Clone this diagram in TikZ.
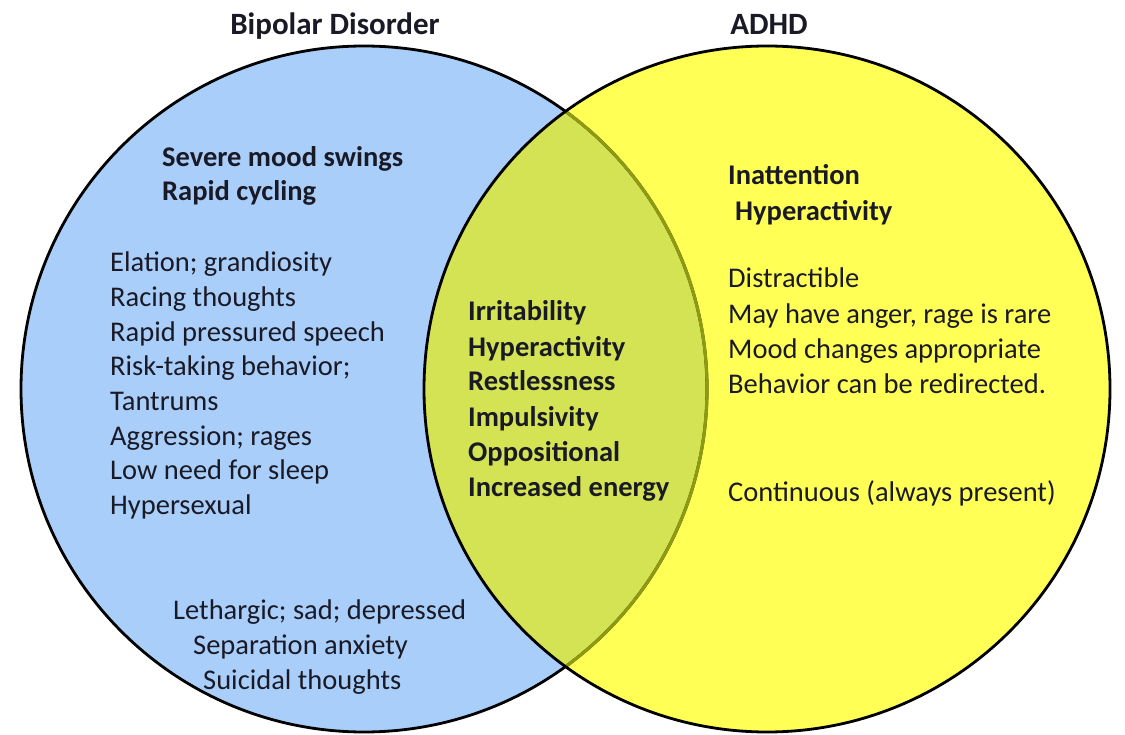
\documentclass[tikz,border=0pt]{standalone}
\usepackage{fontspec}
\setmainfont{Carlito}
\definecolor{bipolarblue}{HTML}{A9CEFA}
\definecolor{adhdyellow}{HTML}{FFFF55}
\definecolor{bothgreen}{HTML}{D4E353}
\definecolor{oliveline}{HTML}{8E9A12}
\definecolor{inkdark}{HTML}{1A1A26}
\tikzset{
  ring/.style={draw=black, line width=2.8pt},
  heading/.style={font=\fontsize{31}{36}\selectfont\bfseries, anchor=base, inner sep=0pt, text=inkdark},
  symptom/.style={font=\fontsize{28.5}{34}\selectfont, anchor=base west, inner sep=0pt, text=inkdark},
  keysymptom/.style={symptom, font=\fontsize{28.5}{34}\selectfont\bfseries},
}
\begin{document}
\begin{tikzpicture}[x=1pt,y=-1pt]
  \useasboundingbox (0,0) rectangle (1125,735);
  % the two sets and their overlap
  \coordinate (bpc) at (364,389);
  \coordinate (adc) at (767,389);
  \fill[bipolarblue] (bpc) circle[radius=343pt];
  \fill[adhdyellow] (adc) circle[radius=343pt];
  \begin{scope}
    \clip (adc) circle[radius=343pt];
    \fill[bothgreen] (bpc) circle[radius=343pt];
  \end{scope}
  \draw[ring] (bpc) circle[radius=343pt];
  \begin{scope}
    \clip (adc) circle[radius=343pt];
    \draw[ring, draw=oliveline, line width=3.2pt] (bpc) circle[radius=343pt];
  \end{scope}
  \draw[ring] (adc) circle[radius=343pt];

  \node[heading] (bptitle) at (335,35) {Bipolar Disorder};
  \node[heading] (adtitle) at (769,35) {ADHD};

  % bipolar only
  \node[keysymptom] (bpkey1) at (162,167) {Severe mood swings};
  \node[keysymptom] (bpkey2) at (162,201) {Rapid cycling};
  \foreach \txt [count=\i from 0] in {Elation; grandiosity, Racing thoughts,
      Rapid pressured speech, Risk-taking behavior;, Tantrums,
      Aggression; rages, Low need for sleep, Hypersexual}
    \node[symptom] (bp\i) at (110,272+34.6*\i) {\txt};
  \node[symptom] (bplow1) at (173,619) {Lethargic; sad; depressed};
  \node[symptom] (bplow2) at (193,654) {Separation anxiety};
  \node[symptom] (bplow3) at (203,689) {Suicidal thoughts};

  % shared
  \foreach \txt [count=\i from 0] in {Irritability, Hyperactivity, Restlessness,
      Impulsivity, Oppositional, Increased energy}
    \node[keysymptom] (both\i) at (468,321+35*\i) {\txt};

  % adhd only
  \node[keysymptom] (adkey1) at (728,185) {Inattention};
  \node[keysymptom] (adkey2) at (735,221) {Hyperactivity};
  \foreach \txt [count=\i from 0] in {Distractible, {May have anger, rage is rare},
      Mood changes appropriate, Behavior can be redirected.}
    \node[symptom] (ad\i) at (728,288+35.3*\i) {\txt};
  \node[symptom] (adcont) at (728,501) {Continuous (always present)};
\end{tikzpicture}
\end{document}
